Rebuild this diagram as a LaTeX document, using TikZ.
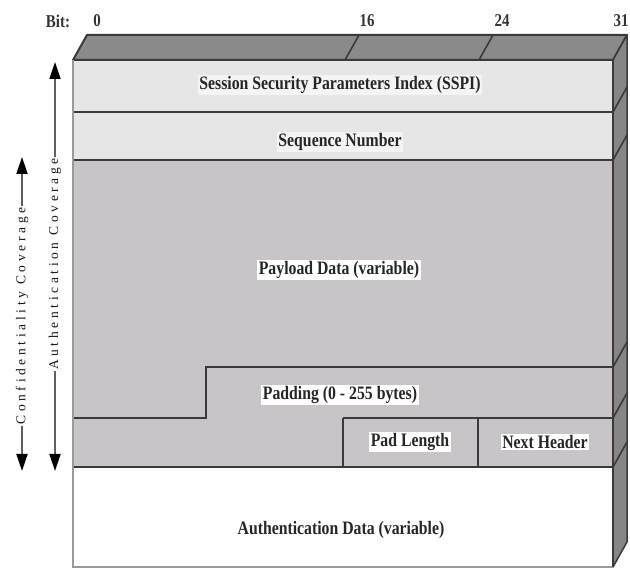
\documentclass[tikz,border=0pt]{standalone}
\usepackage{fontspec}
\setmainfont{Liberation Serif}
\newfontfamily\boxfont{Liberation Serif}[FakeStretch=0.83]
\newfontfamily\sidefont{Liberation Serif}[LetterSpace=27]
\usetikzlibrary{arrows.meta}
\definecolor{lightband}{HTML}{E6E6E6}
\definecolor{midband}{HTML}{C8C4C8}
\definecolor{topface}{HTML}{8A8A8A}
\definecolor{sideface}{HTML}{868686}
\definecolor{edgecol}{HTML}{3A3A3A}
\definecolor{bordercol}{HTML}{9A9A9A}
\begin{document}
\begin{tikzpicture}[x=1pt,y=-1pt,
  fieldlabel/.style={font=\boxfont\bfseries\fontsize{19}{22}\selectfont, fill=white, inner sep=1.5pt, text=black!85},
  bitlabel/.style={font=\boxfont\bfseries\fontsize{18}{20}\selectfont, text=black!80},
  sidelabel/.style={font=\sidefont\fontsize{13.5}{15}\selectfont, fill=white, inner sep=1pt, rotate=90, text=black!90},
  bandline/.style={draw=edgecol, line width=2.4pt},
  thinline/.style={draw=edgecol, line width=1.6pt},
  covarrow/.style={draw=gray!75!black, line width=1.8pt,
     {Triangle[width=11pt,length=17pt,color=black]}-{Triangle[width=11pt,length=17pt,color=black]}}]
\path[use as bounding box, fill=white] (0,0) rectangle (630,569);

% front face bands
\fill[lightband] (73,60) rectangle (613,160);
\fill[midband] (73,160) rectangle (613,467);
\fill[white] (73,467) rectangle (613,567);

% top face
\filldraw[fill=topface, draw=edgecol, line width=2pt, line join=round]
  (73,60) -- (87,35) -- (627,35) -- (613,60) -- cycle;
\draw[thinline] (345,60) -- (359,35);
\draw[thinline] (479,60) -- (493,35);

% side face
\filldraw[fill=sideface, draw=edgecol, line width=1.5pt, line join=round]
  (613,60) -- (627,35) -- (627,542) -- (613,567) -- cycle;
\foreach \yy in {112,160,367,418,467}
  \draw[thinline] (613,\yy) -- (627,\yy-25);

% band lines
\draw[bandline] (73,112) -- (613,112);
\draw[bandline] (73,160) -- (613,160);
\draw[bandline] (613,367) -- (206,367) -- (206,418) -- (73,418);
\draw[thinline] (343,418) -- (613,418);
\draw[thinline] (343,418) -- (343,467);
\draw[thinline] (478,418) -- (478,467);
\draw[bandline] (73,467) -- (613,467);
\draw[draw=bordercol, line width=2.5pt] (613,567) -- (73,567) -- (73,60);
\draw[draw=edgecol, line width=1.5pt] (613,60) -- (613,567);

% field labels
\node[fieldlabel, fill=white!55!lightband] (sspi) at (340,85) {Session Security Parameters Index (SSPI)};
\node[fieldlabel, fill=white!55!lightband] (seq) at (340,142) {Sequence Number};
\node[fieldlabel] (payload) at (339,270) {Payload Data (variable)};
\node[fieldlabel] (padding) at (340,395) {Padding (0 - 255 bytes)};
\node[fieldlabel] (padlen) at (410,442) {Pad Length};
\node[fieldlabel] (nexthdr) at (545,442) {Next Header};
\node[fieldlabel] (auth) at (341,530) {Authentication Data (variable)};

% bit labels
\node[bitlabel] (bit) at (58,21) {Bit:};
\node[bitlabel] (b0) at (97,21) {0};
\node[bitlabel] (b16) at (367,21) {16};
\node[bitlabel] (b24) at (502,21) {24};
\node[bitlabel, anchor=east] (b31) at (632,21) {31};

% coverage arrows
\coordinate (authtop) at (55,62);
\coordinate (authbot) at (55,471);
\coordinate (conftop) at (22,157);
\coordinate (confbot) at (22,471);
\draw[covarrow] (authtop) -- (authbot);
\draw[covarrow] (conftop) -- (confbot);
\node[sidelabel] (authcov) at (55,264) {Authentication Coverage};
\node[sidelabel] (confcov) at (22,316) {Confidentiality Coverage};
\end{tikzpicture}
\end{document}
